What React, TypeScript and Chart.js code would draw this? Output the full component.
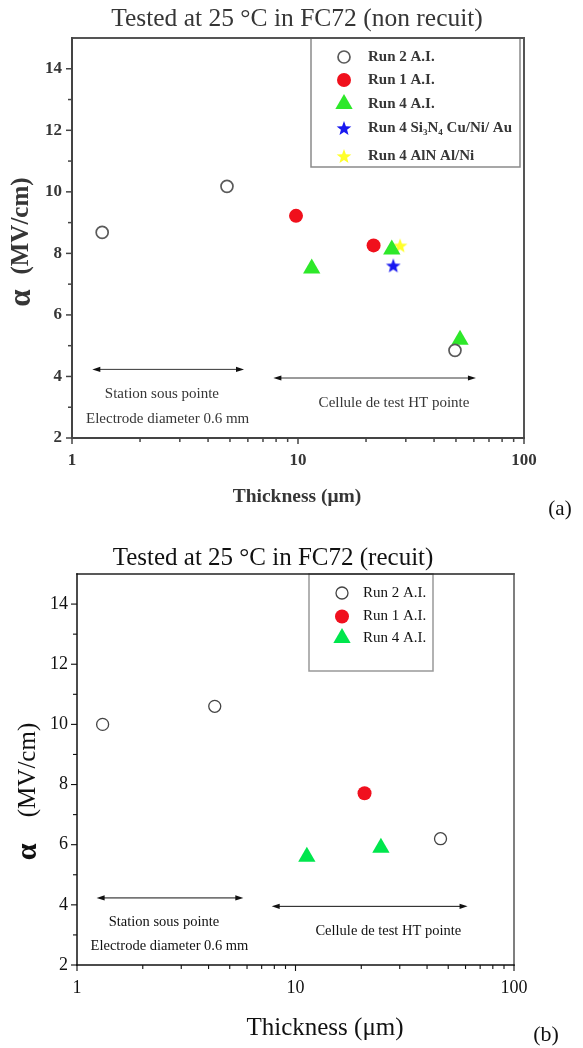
import React, { useEffect, useRef } from 'react';
import { Chart, registerables } from 'chart.js';

Chart.register(...registerables);

const SERIF = '"Liberation Serif", "Times New Roman", Times, serif';

// ---------- panel (a): non recuit ----------
const A_RUN2_X = [1.36, 4.85, 49.5];
const A_RUN2_Y = [8.68, 10.18, 4.85];
const A_RUN1_X = [9.8, 21.6];
const A_RUN1_Y = [9.22, 8.26];
const A_RUN4_X = [11.5, 26.0, 52.1];
const A_RUN4_Y = [7.51, 8.13, 5.19];
const A_SIN_X = [26.4];
const A_SIN_Y = [7.61];
const A_ALN_X = [28.3];
const A_ALN_Y = [8.26];

// ---------- panel (b): recuit ----------
const B_RUN2_X = [1.31, 4.27, 46.1];
const B_RUN2_Y = [10.0, 10.6, 6.2];
const B_RUN1_X = [20.7];
const B_RUN1_Y = [7.71];
const B_RUN4_X = [11.27, 24.6];
const B_RUN4_Y = [5.6, 5.9];

const LABELS_A = ['Run 2 A.I.', 'Run 1 A.I.', 'Run 4 A.I.', 'Run 4 Si_3N_4 Cu/Ni/ Au', 'Run 4 AlN Al/Ni'];
const LABELS_B = ['Run 2 A.I.', 'Run 1 A.I.', 'Run 4 A.I.'];

const Y_MIN = 2;
const Y_MAX = 15;
const Y_TICKS = [2, 4, 6, 8, 10, 12, 14];
const Y_MINOR = [3, 5, 7, 9, 11, 13];
const X_MIN = 1;
const X_MAX = 100;
const X_TICKS = [1, 10, 100];
const X_MINOR = [2, 3, 4, 5, 6, 7, 8, 9, 20, 30, 40, 50, 60, 70, 80, 90];

// annotations (data coordinates)
const ARROW_LEFT_X = [1.23, 5.77];
const ARROW_LEFT_Y = [4.23, 4.23];
const ARROW_RIGHT_X = [7.78, 61.3];
const ARROW_RIGHT_Y = [3.95, 3.95];
const NOTE_TEXT = ['Station sous pointe', 'Electrode diameter 0.6 mm', 'Cellule de test HT pointe'];
const NOTE_X = [2.5, 2.65, 26.6];
const NOTE_Y = [3.42, 2.62, 3.13];

const TITLE_A = 'Tested at 25 °C in FC72 (non recuit)';
const TITLE_B = 'Tested at 25 °C in FC72 (recuit)';
const X_TITLE = 'Thickness (μm)';
const Y_TITLE_SYMBOL = 'α';
const Y_TITLE_UNIT = '(MV/cm)';

type Marker = { style: 'circle' | 'triangle' | 'star'; r: number; fill: string; stroke: string; lw: number };
type Series = { label: string; xs: number[]; ys: number[]; marker: Marker };

const SERIES_A: Series[] = [
  { label: LABELS_A[0], xs: A_RUN2_X, ys: A_RUN2_Y, marker: { style: 'circle', r: 6, fill: 'rgba(255,255,255,0)', stroke: '#5a5a5a', lw: 1.7 } },
  { label: LABELS_A[1], xs: A_RUN1_X, ys: A_RUN1_Y, marker: { style: 'circle', r: 7, fill: '#f0101c', stroke: '#f0101c', lw: 0 } },
  { label: LABELS_A[2], xs: A_RUN4_X, ys: A_RUN4_Y, marker: { style: 'triangle', r: 10, fill: '#2ee82a', stroke: '#2ee82a', lw: 0 } },
  { label: LABELS_A[3], xs: A_SIN_X, ys: A_SIN_Y, marker: { style: 'star', r: 8, fill: '#1818f0', stroke: '#1818f0', lw: 0 } },
  { label: LABELS_A[4], xs: A_ALN_X, ys: A_ALN_Y, marker: { style: 'star', r: 8, fill: '#ffff2a', stroke: '#ffff2a', lw: 0 } },
];

const SERIES_B: Series[] = [
  { label: LABELS_B[0], xs: B_RUN2_X, ys: B_RUN2_Y, marker: { style: 'circle', r: 6, fill: 'rgba(255,255,255,0)', stroke: '#444444', lw: 1.3 } },
  { label: LABELS_B[1], xs: B_RUN1_X, ys: B_RUN1_Y, marker: { style: 'circle', r: 7, fill: '#f0101e', stroke: '#f0101e', lw: 0 } },
  { label: LABELS_B[2], xs: B_RUN4_X, ys: B_RUN4_Y, marker: { style: 'triangle', r: 10, fill: '#00e64d', stroke: '#00e64d', lw: 0 } },
];

const PANEL_A = {
  width: 583,
  height: 525,
  area: { left: 72, top: 38, right: 524, bottom: 438 },
  ink: '#363636',
  weight: 'bold',
  title: { text: TITLE_A, x: 297, y: 19, size: 25.5, weight: 'normal' },
  yTitle: { x: 22, unitY: 226, alphaY: 298, size: 25, alphaSize: 31, weight: 'bold' },
  xTitle: { x: 297, y: 497, size: 19.5, weight: 'bold' },
  tag: { text: '(a)', x: 560, y: 509, size: 21 },
  tickSize: 17,
  yPad: 10,
  xPad: 12,
  legend: { left: 311, right: 520, bottom: 167, markerX: 344, textX: 368, rows: [57, 80, 104, 128, 156], size: 15, border: '#8a8a8a' },
  noteSize: 15,
  noteWeight: 'normal',
  frameColors: ['#444', '#555', '#555', '#444'],
  frameWidth: 2,
};

const PANEL_B = {
  width: 583,
  height: 523,
  area: { left: 77, top: 49, right: 514, bottom: 440 },
  ink: '#111111',
  weight: 'normal',
  title: { text: TITLE_B, x: 273, y: 33, size: 25, weight: 'normal' },
  yTitle: { x: 28, unitY: 245, alphaY: 327, size: 25, alphaSize: 30, weight: 'normal' },
  xTitle: { x: 325, y: 503, size: 25, weight: 'normal' },
  tag: { text: '(b)', x: 546, y: 510, size: 22 },
  tickSize: 18,
  yPad: 9,
  xPad: 12,
  legend: { left: 309, right: 433, bottom: 146, markerX: 342, textX: 363, rows: [68, 91.5, 113], size: 15, border: '#999' },
  noteSize: 14.5,
  noteWeight: 'normal',
  frameColors: ['#111', '#222', '#555', '#111'],
  frameWidth: 1.5,
};

function makeStar(color: string, size: number): HTMLCanvasElement {
  const c = document.createElement('canvas');
  c.width = size;
  c.height = size;
  const g = c.getContext('2d') as CanvasRenderingContext2D;
  const cx = size / 2;
  const cy = size / 2 + size * 0.05;
  const R = size / 2 - 0.3;
  const r = R * 0.42;
  g.beginPath();
  for (let i = 0; i < 10; i++) {
    const ang = -Math.PI / 2 + (i * Math.PI) / 5;
    const rr = i % 2 === 0 ? R : r;
    const px = cx + rr * Math.cos(ang);
    const py = cy + rr * Math.sin(ang);
    if (i === 0) g.moveTo(px, py);
    else g.lineTo(px, py);
  }
  g.closePath();
  g.fillStyle = color;
  g.fill();
  return c;
}

function drawMarker(ctx: CanvasRenderingContext2D, m: Marker, x: number, y: number, img: HTMLCanvasElement | null) {
  ctx.save();
  if (m.style === 'star' && img) {
    ctx.drawImage(img, x - img.width / 2, y - img.height / 2);
    ctx.restore();
    return;
  }
  ctx.beginPath();
  if (m.style === 'circle') {
    ctx.arc(x, y, m.r, 0, Math.PI * 2);
  } else {
    let rad = 0;
    for (let i = 0; i < 3; i++) {
      const px = x + Math.sin(rad) * m.r;
      const py = y - Math.cos(rad) * m.r;
      if (i === 0) ctx.moveTo(px, py);
      else ctx.lineTo(px, py);
      rad += (2 * Math.PI) / 3;
    }
    ctx.closePath();
  }
  ctx.fillStyle = m.fill;
  ctx.fill();
  if (m.lw > 0) {
    ctx.lineWidth = m.lw;
    ctx.strokeStyle = m.stroke;
    ctx.stroke();
  }
  ctx.restore();
}

function drawRich(ctx: CanvasRenderingContext2D, text: string, x: number, y: number, size: number, weight: string) {
  const parts: { t: string; sub: boolean }[] = [];
  for (let i = 0; i < text.length; i++) {
    if (text[i] === '_' && i + 1 < text.length) {
      parts.push({ t: text[i + 1], sub: true });
      i++;
    } else if (parts.length && !parts[parts.length - 1].sub) {
      parts[parts.length - 1].t += text[i];
    } else {
      parts.push({ t: text[i], sub: false });
    }
  }
  let cx = x;
  for (const p of parts) {
    const fs = p.sub ? Math.round(size * 0.62) : size;
    ctx.font = `${weight} ${fs}px ${SERIF}`;
    ctx.fillText(p.t, cx, p.sub ? y + size * 0.32 : y);
    cx += ctx.measureText(p.t).width;
  }
}

function decoPlugin(panel: any, series: Series[], images: (HTMLCanvasElement | null)[]) {
  return {
    id: 'deco',
    beforeDatasetsDraw(chart: any) {
      const ctx: CanvasRenderingContext2D = chart.ctx;
      const a = chart.chartArea;
      const xs = chart.scales.x;
      const ys = chart.scales.y;
      ctx.save();
      // legend box
      const lg = panel.legend;
      ctx.strokeStyle = lg.border;
      ctx.lineWidth = 1.5;
      ctx.strokeRect(lg.left, a.top, lg.right - lg.left, lg.bottom - a.top);
      // frame
      ctx.lineWidth = panel.frameWidth;
      ctx.lineCap = 'square';
      const [cl, ct, cr, cb] = panel.frameColors;
      const seg = (x1: number, y1: number, x2: number, y2: number, c: string) => {
        ctx.strokeStyle = c;
        ctx.beginPath();
        ctx.moveTo(x1, y1);
        ctx.lineTo(x2, y2);
        ctx.stroke();
      };
      seg(a.left, a.top, a.right, a.top, ct);
      seg(a.right, a.top, a.right, a.bottom, cr);
      seg(a.left, a.top, a.left, a.bottom, cl);
      seg(a.left, a.bottom, a.right, a.bottom, cb);
      // ticks
      ctx.lineCap = 'butt';
      ctx.lineWidth = panel.frameWidth * 0.75;
      for (const v of Y_TICKS) {
        const p = ys.getPixelForValue(v);
        seg(a.left - 6, p, a.left, p, cl);
      }
      for (const v of Y_MINOR) {
        const p = ys.getPixelForValue(v);
        seg(a.left - 4, p, a.left, p, cl);
      }
      for (const v of X_TICKS) {
        const p = xs.getPixelForValue(v);
        seg(p, a.bottom, p, a.bottom + 6, cb);
      }
      for (const v of X_MINOR) {
        const p = xs.getPixelForValue(v);
        seg(p, a.bottom, p, a.bottom + 4, cb);
      }
      ctx.restore();
    },
    afterDraw(chart: any) {
      const ctx: CanvasRenderingContext2D = chart.ctx;
      const xs = chart.scales.x;
      const ys = chart.scales.y;
      ctx.save();
      ctx.fillStyle = panel.ink;
      ctx.strokeStyle = panel.ink;

      // legend entries
      const lg = panel.legend;
      series.forEach((s, i) => {
        const y = lg.rows[i];
        drawMarker(ctx, s.marker, lg.markerX, y, images[i]);
        ctx.fillStyle = panel.ink;
        ctx.textAlign = 'left';
        ctx.textBaseline = 'middle';
        drawRich(ctx, s.label, lg.textX, y, lg.size, panel.weight);
      });

      // arrows
      const arrow = (xv: number[], yv: number[]) => {
        const x1 = xs.getPixelForValue(xv[0]);
        const x2 = xs.getPixelForValue(xv[1]);
        const y1 = ys.getPixelForValue(yv[0]);
        const y2 = ys.getPixelForValue(yv[1]);
        ctx.lineWidth = 1;
        ctx.strokeStyle = panel.ink;
        ctx.beginPath();
        ctx.moveTo(x1 + 4, y1);
        ctx.lineTo(x2 - 4, y2);
        ctx.stroke();
        ctx.fillStyle = '#111';
        ctx.beginPath();
        ctx.moveTo(x1, y1);
        ctx.lineTo(x1 + 8, y1 - 2.6);
        ctx.lineTo(x1 + 8, y1 + 2.6);
        ctx.closePath();
        ctx.fill();
        ctx.beginPath();
        ctx.moveTo(x2, y2);
        ctx.lineTo(x2 - 8, y2 - 2.6);
        ctx.lineTo(x2 - 8, y2 + 2.6);
        ctx.closePath();
        ctx.fill();
      };
      arrow(ARROW_LEFT_X, ARROW_LEFT_Y);
      arrow(ARROW_RIGHT_X, ARROW_RIGHT_Y);

      // notes
      ctx.fillStyle = panel.ink;
      ctx.textAlign = 'center';
      ctx.textBaseline = 'middle';
      ctx.font = `${panel.noteWeight} ${panel.noteSize}px ${SERIF}`;
      NOTE_TEXT.forEach((t, i) => {
        ctx.fillText(t, xs.getPixelForValue(NOTE_X[i]), ys.getPixelForValue(NOTE_Y[i]));
      });

      // title
      const tt = panel.title;
      ctx.font = `${tt.weight} ${tt.size}px ${SERIF}`;
      ctx.fillText(tt.text, tt.x, tt.y);

      // x title
      const xt = panel.xTitle;
      ctx.font = `${xt.weight} ${xt.size}px ${SERIF}`;
      ctx.fillText(X_TITLE, xt.x, xt.y);

      // panel tag
      const tg = panel.tag;
      ctx.font = `normal ${tg.size}px ${SERIF}`;
      ctx.fillStyle = '#111';
      ctx.fillText(tg.text, tg.x, tg.y);

      // y title (rotated)
      const yt = panel.yTitle;
      ctx.fillStyle = panel.ink;
      ctx.save();
      ctx.translate(yt.x, yt.unitY);
      ctx.rotate(-Math.PI / 2);
      ctx.font = `${yt.weight} ${yt.size}px ${SERIF}`;
      ctx.fillText(Y_TITLE_UNIT, 0, 0);
      ctx.restore();
      ctx.save();
      ctx.translate(yt.x, yt.alphaY);
      ctx.rotate(-Math.PI / 2);
      ctx.font = `bold ${yt.alphaSize}px ${SERIF}`;
      ctx.fillText(Y_TITLE_SYMBOL, 0, 0);
      ctx.restore();

      ctx.restore();
    },
  };
}

function build(canvas: HTMLCanvasElement, panel: any, series: Series[]) {
  const images = series.map((s) => (s.marker.style === 'star' ? makeStar(s.marker.fill, s.marker.r * 2) : null));
  const datasets = series.map((s, i) => ({
    label: s.label.replace(/_/g, ''),
    data: s.xs.map((x, j) => ({ x, y: s.ys[j] })),
    pointStyle: (images[i] || s.marker.style) as any,
    pointRadius: s.marker.r,
    pointHoverRadius: s.marker.r,
    pointBackgroundColor: s.marker.fill,
    pointBorderColor: s.marker.stroke,
    pointBorderWidth: s.marker.lw,
    showLine: false,
  }));
  const tickFont = { family: SERIF, size: panel.tickSize, weight: panel.weight };
  return new Chart(canvas, {
    type: 'scatter',
    data: { datasets },
    options: {
      responsive: false,
      animation: false,
      events: [],
      layout: { padding: { left: 0, top: panel.area.top, right: panel.width - panel.area.right, bottom: 0 } },
      plugins: { legend: { display: false }, tooltip: { enabled: false }, title: { display: false } },
      scales: {
        x: {
          type: 'logarithmic',
          min: X_MIN,
          max: X_MAX,
          grid: { display: false, drawTicks: false },
          border: { display: false },
          afterBuildTicks: (s: any) => {
            s.ticks = X_TICKS.map((v) => ({ value: v }));
          },
          afterFit: (s: any) => {
            s.height = panel.height - panel.area.bottom;
          },
          ticks: {
            callback: (v: any) => String(v),
            font: tickFont,
            color: panel.ink,
            padding: panel.xPad,
            maxRotation: 0,
            autoSkip: false,
          },
        },
        y: {
          type: 'linear',
          min: Y_MIN,
          max: Y_MAX,
          grid: { display: false, drawTicks: false },
          border: { display: false },
          afterBuildTicks: (s: any) => {
            s.ticks = Y_TICKS.map((v) => ({ value: v }));
          },
          afterFit: (s: any) => {
            s.width = panel.area.left;
          },
          ticks: {
            callback: (v: any) => String(v),
            font: tickFont,
            color: panel.ink,
            padding: panel.yPad,
            autoSkip: false,
          },
        },
      },
    } as any,
    plugins: [decoPlugin(panel, series, images)],
  });
}

export default function App() {
  const refA = useRef<HTMLCanvasElement>(null);
  const refB = useRef<HTMLCanvasElement>(null);
  useEffect(() => {
    const charts: Chart[] = [];
    if (refA.current) charts.push(build(refA.current, PANEL_A, SERIES_A));
    if (refB.current) charts.push(build(refB.current, PANEL_B, SERIES_B));
    return () => charts.forEach((c) => c.destroy());
  }, []);
  return (
    <div style={{ position: 'fixed', left: 0, top: 0, width: 583, height: 1048, background: '#fff', overflow: 'hidden' }}>
      <canvas
        ref={refA}
        width={PANEL_A.width}
        height={PANEL_A.height}
        style={{ position: 'absolute', left: 0, top: 0, filter: 'blur(0.4px)' }}
      />
      <canvas
        ref={refB}
        width={PANEL_B.width}
        height={PANEL_B.height}
        style={{ position: 'absolute', left: 0, top: 525 }}
      />
    </div>
  );
}
